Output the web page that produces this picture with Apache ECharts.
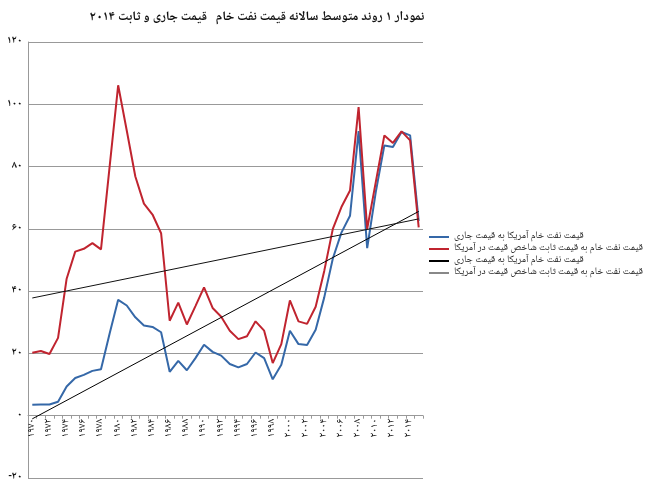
<!DOCTYPE html>
<html>
<head>
<meta charset="utf-8">
<script src="https://cdn.jsdelivr.net/npm/echarts@6/dist/echarts.min.js"></script>
<style>
  html, body { margin: 0; padding: 0; background: #fff; }
  #chart { width: 650px; height: 488px; }
</style>
</head>
<body>
<div id="chart"></div>
<script>
// years 1970..2015
var years = ['1970', '1971', '1972', '1973', '1974', '1975', '1976', '1977', '1978', '1979',
    '1980', '1981', '1982', '1983', '1984', '1985', '1986', '1987', '1988', '1989',
    '1990', '1991', '1992', '1993', '1994', '1995', '1996', '1997', '1998', '1999',
    '2000', '2001', '2002', '2003', '2004', '2005', '2006', '2007', '2008', '2009',
    '2010', '2011', '2012', '2013', '2014', '2015'];

// current price (blue)
var currentPrice = [3.5, 3.6, 3.6, 4.5, 9.4, 12.1, 13.1, 14.4, 14.9, 26.3,
    37.2, 35.4, 31.6, 29.0, 28.5, 26.8, 14.1, 17.6, 14.6, 18.5,
    22.8, 20.5, 19.3, 16.6, 15.5, 16.6, 20.3, 18.5, 11.7, 16.4,
    27.3, 23.0, 22.7, 27.6, 38.0, 50.5, 58.8, 64.2, 91.4, 53.8,
    71.8, 86.8, 86.3, 91.1, 90.0, 62.5];

// constant price (red)
var constantPrice = [20.2, 20.8, 19.8, 25.0, 44.0, 52.7, 53.6, 55.4, 53.4, 79.8,
    106.1, 91.6, 76.8, 68.1, 64.6, 58.6, 30.5, 36.3, 29.3, 35.2,
    41.2, 34.6, 31.8, 27.3, 24.6, 25.5, 30.3, 27.3, 16.9, 23.0,
    37.0, 30.3, 29.5, 35.0, 46.5, 60.0, 67.0, 72.3, 99.1, 60.0,
    75.0, 90.0, 87.6, 91.3, 88.4, 60.5];

// linear trend end points
var trendCurrent = [['1970', -1.0], ['2015', 65.6]];
var trendConstant = [['1970', 37.8], ['2015', 63.2]];

var nameCurrent = 'قیمت نفت خام آمریکا به قیمت جاری';
var nameConstant = 'قیمت نفت خام به قیمت ثابت شاخص قیمت در آمریکا';
// trend names look the same, a right-to-left mark keeps them apart
var nameTrendCurrent = nameCurrent + '\u200f';
var nameTrendConstant = nameConstant + '\u200f';

var faDigits = '۰۱۲۳۴۵۶۷۸۹';
function toFa(v) {
    return String(v).replace(/[0-9]/g, function (d) { return faDigits[d]; });
}

var font = "'Noto Naskh Arabic', 'Noto Sans Arabic', 'DejaVu Sans Condensed', 'DejaVu Sans'";
var myChart = echarts.init(document.getElementById('chart'));
var option = {
    animation: false,
    title: {
        text: 'نمودار ۱ روند متوسط سالانه قیمت نفت خام   قیمت جاری و ثابت ۲۰۱۴',
        left: 252,
        top: 7,
        textAlign: 'center',
        textStyle: { fontFamily: font, fontSize: 13, fontWeight: 'bold', color: '#111' }
    },
    legend: {
        orient: 'vertical',
        left: 424,
        top: 227,
        itemGap: 2,
        itemWidth: 20,
        itemHeight: 2,
        icon: 'rect',
        textStyle: { fontFamily: font, fontSize: 10, color: '#222' },
        data: [
            { name: nameCurrent },
            { name: nameConstant },
            { name: nameTrendCurrent },
            { name: nameTrendConstant, itemStyle: { color: '#888' } }
        ]
    },
    grid: { left: 28, right: 227, top: 42, bottom: 10 },
    xAxis: {
        type: 'category',
        data: years,
        boundaryGap: true,
        // sit on the zero line: 20 units above the bottom of the grid
        offset: -62.3,
        axisLine: { onZero: false, lineStyle: { color: '#999' } },
        axisTick: { show: true, interval: 0, length: 3, lineStyle: { color: '#999' } },
        axisLabel: {
            interval: 1,
            rotate: 90,
            margin: 3,
            fontFamily: font,
            fontSize: 10.5,
            color: '#111',
            formatter: function (v) { return toFa(v); }
        },
        splitLine: { show: false }
    },
    yAxis: {
        type: 'value',
        min: -20,
        max: 120,
        interval: 20,
        axisLine: { show: true, lineStyle: { color: '#999' } },
        axisTick: { show: false },
        axisLabel: {
            margin: 6,
            fontFamily: font,
            fontSize: 10.5,
            fontWeight: 'bold',
            color: '#111',
            formatter: function (v) { return toFa(v); }
        },
        splitLine: { show: true, lineStyle: { color: '#999', width: 1 } }
    },
    series: [
        {
            name: nameCurrent,
            type: 'line',
            data: currentPrice,
            symbol: 'none',
            lineStyle: { color: '#3568a8', width: 2 },
            itemStyle: { color: '#3568a8' }
        },
        {
            name: nameConstant,
            type: 'line',
            data: constantPrice,
            symbol: 'none',
            lineStyle: { color: '#c0242f', width: 2 },
            itemStyle: { color: '#c0242f' }
        },
        {
            name: nameTrendCurrent,
            type: 'line',
            data: trendCurrent,
            symbol: 'none',
            lineStyle: { color: '#000', width: 1 },
            itemStyle: { color: '#000' }
        },
        {
            name: nameTrendConstant,
            type: 'line',
            data: trendConstant,
            symbol: 'none',
            lineStyle: { color: '#111', width: 1 },
            itemStyle: { color: '#111' }
        }
    ]
};
myChart.setOption(option);
</script>
</body>
</html>
